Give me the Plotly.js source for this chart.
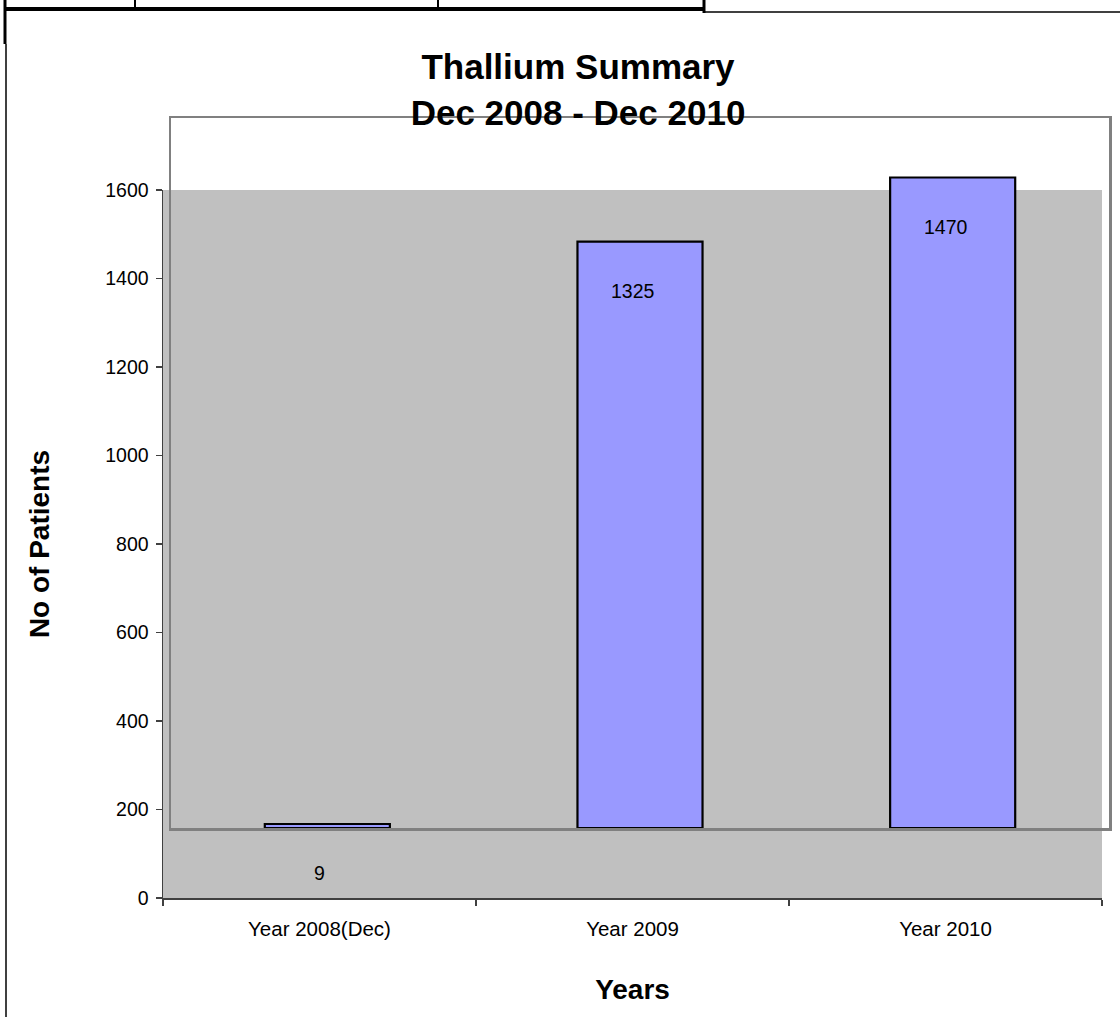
<!DOCTYPE html>
<html>
<head>
<meta charset="utf-8">
<script src="https://cdn.plot.ly/plotly-3.0.1.min.js"></script>
<style>html,body{margin:0;padding:0;background:#fff;}#chart{width:1120px;height:1017px;}</style>
</head>
<body>
<div id="chart"></div>
<script>
// ---- data ----
const categories = ["Year 2008(Dec)", "Year 2009", "Year 2010"];
const patients = [9, 1325, 1470];
const yTickVals = [0, 200, 400, 600, 800, 1000, 1200, 1400, 1600];
const titleText = "Thallium Summary<br>Dec 2008 - Dec 2010";
const xTitle = "Years";
const yTitle = "No of Patients";

// ---- style / geometry ----
const W = 1120, H = 1017;
const M = {l: 163, r: 10, t: 118, b: 119};
const PW = W - M.l - M.r, PH = H - M.t - M.b;
const px = x => (x - M.l) / PW;          // pixel -> paper x
const py = y => (H - M.b - y) / PH;      // pixel -> paper y
// axis frame (visible axes) and the offset frame in which the source draws its bars
const AX = {x0: 163, x1: 1102, y0: 898, y1: 190};
const BF = {x0: 171, x1: 1109, y0: 828, y1: 118};
const YMAX = 1600;
const Y2MAX = YMAX * (BF.y0 - BF.y1) / (AX.y0 - AX.y1);
const BAR_WIDTH = 0.4;
const FONT = "Liberation Sans, Arial, sans-serif";
const AXC = "#404040";

const bars = {
  type: "bar",
  x: categories,
  y: patients,
  xaxis: "x2", yaxis: "y2",
  width: BAR_WIDTH,
  marker: {color: "#9999ff", line: {color: "#000000", width: 2.2}},
  hoverinfo: "x+y"
};
// same series on the visible axes (no marks) so the category axis is populated
const axisSeries = {
  type: "scatter", mode: "none",
  x: categories, y: patients,
  xaxis: "x", yaxis: "y",
  hoverinfo: "skip", showlegend: false
};

const labelAnns = categories.map((c, i) => ({
  x: c, y: patients[i], xref: "x", yref: "y",
  text: String(patients[i]), showarrow: false, yshift: 21,
  font: {family: FONT, size: 19.5, color: "#000"}
}));

function line(x0, y0, x1, y1, w, col) {
  return {type: "line", xref: "paper", yref: "paper",
    x0: px(x0), y0: py(y0), x1: px(x1), y1: py(y1),
    line: {color: col || "#000", width: w}, layer: "above"};
}

const shapes = [
  // grey plot-area fill of the axis frame
  {type: "rect", xref: "x domain", yref: "y domain", layer: "below",
   x0: 0, x1: 1, y0: 0, y1: 1, fillcolor: "#c0c0c0", line: {width: 0}},
  // spreadsheet fragment at the top
  line(4, 9, 705, 9, 4),
  line(5, 0, 5, 44, 3),
  line(6, 44, 6, 1017, 1.5),
  line(135, 0, 135, 9, 2),
  line(438, 0, 438, 9, 2),
  line(704, 0, 704, 13, 3),
  line(705, 12, 1120, 12, 1.5)
];

const layout = {
  width: W, height: H,
  margin: {l: M.l, r: M.r, t: M.t, b: M.b, pad: 0},
  paper_bgcolor: "#ffffff",
  plot_bgcolor: "rgba(0,0,0,0)",
  showlegend: false,
  font: {family: FONT, color: "#000"},
  title: {
    text: titleText,
    font: {family: FONT, size: 35, color: "#000", weight: "bold"},
    x: 578 / W, xanchor: "center", xref: "container",
    y: 1 - 79 / H, yanchor: "top", yref: "container"
  },
  xaxis: {
    type: "category",
    categoryorder: "array", categoryarray: categories,
    domain: [px(AX.x0), px(AX.x1)],
    anchor: "y",
    range: [-0.5, 2.5],
    showgrid: false, zeroline: false,
    showline: true, linecolor: AXC, linewidth: 1.5,
    ticks: "outside", tickson: "boundaries", ticklen: 6, tickcolor: AXC, tickwidth: 1.5,
    ticklabelstandoff: 12,
    tickfont: {family: FONT, size: 20.5, color: "#000"},
    title: {text: xTitle, font: {family: FONT, size: 28, color: "#000", weight: "bold"}, standoff: 40},
    fixedrange: true
  },
  yaxis: {
    domain: [py(AX.y0), py(AX.y1)],
    anchor: "x",
    range: [0, YMAX],
    tickvals: yTickVals,
    showgrid: false, zeroline: false,
    showline: true, linecolor: AXC, linewidth: 1.5,
    ticks: "outside", ticklen: 6, tickcolor: AXC, tickwidth: 1.5,
    ticklabelstandoff: 3,
    tickfont: {family: FONT, size: 19.5, color: "#000"},
    title: {text: yTitle, font: {family: FONT, size: 28, color: "#000", weight: "bold"}, standoff: 47},
    fixedrange: true
  },
  // offset frame: its border is the grey outline seen in the source
  xaxis2: {
    type: "category",
    categoryorder: "array", categoryarray: categories,
    domain: [px(BF.x0), px(BF.x1)],
    anchor: "y2",
    range: [-0.5, 2.5],
    showgrid: false, zeroline: false, showticklabels: false, ticks: "",
    showline: true, mirror: true, linecolor: "#808080", linewidth: 2.5,
    layer: "below traces", fixedrange: true
  },
  yaxis2: {
    domain: [py(BF.y0), py(BF.y1)],
    anchor: "x2",
    range: [0, Y2MAX],
    showgrid: false, zeroline: false, showticklabels: false, ticks: "",
    showline: true, mirror: true, linecolor: "#808080", linewidth: 2.5,
    layer: "below traces", fixedrange: true
  },
  shapes: shapes,
  annotations: labelAnns
};

Plotly.newPlot("chart", [axisSeries, bars], layout, {displayModeBar: false, staticPlot: true});
</script>
</body>
</html>
